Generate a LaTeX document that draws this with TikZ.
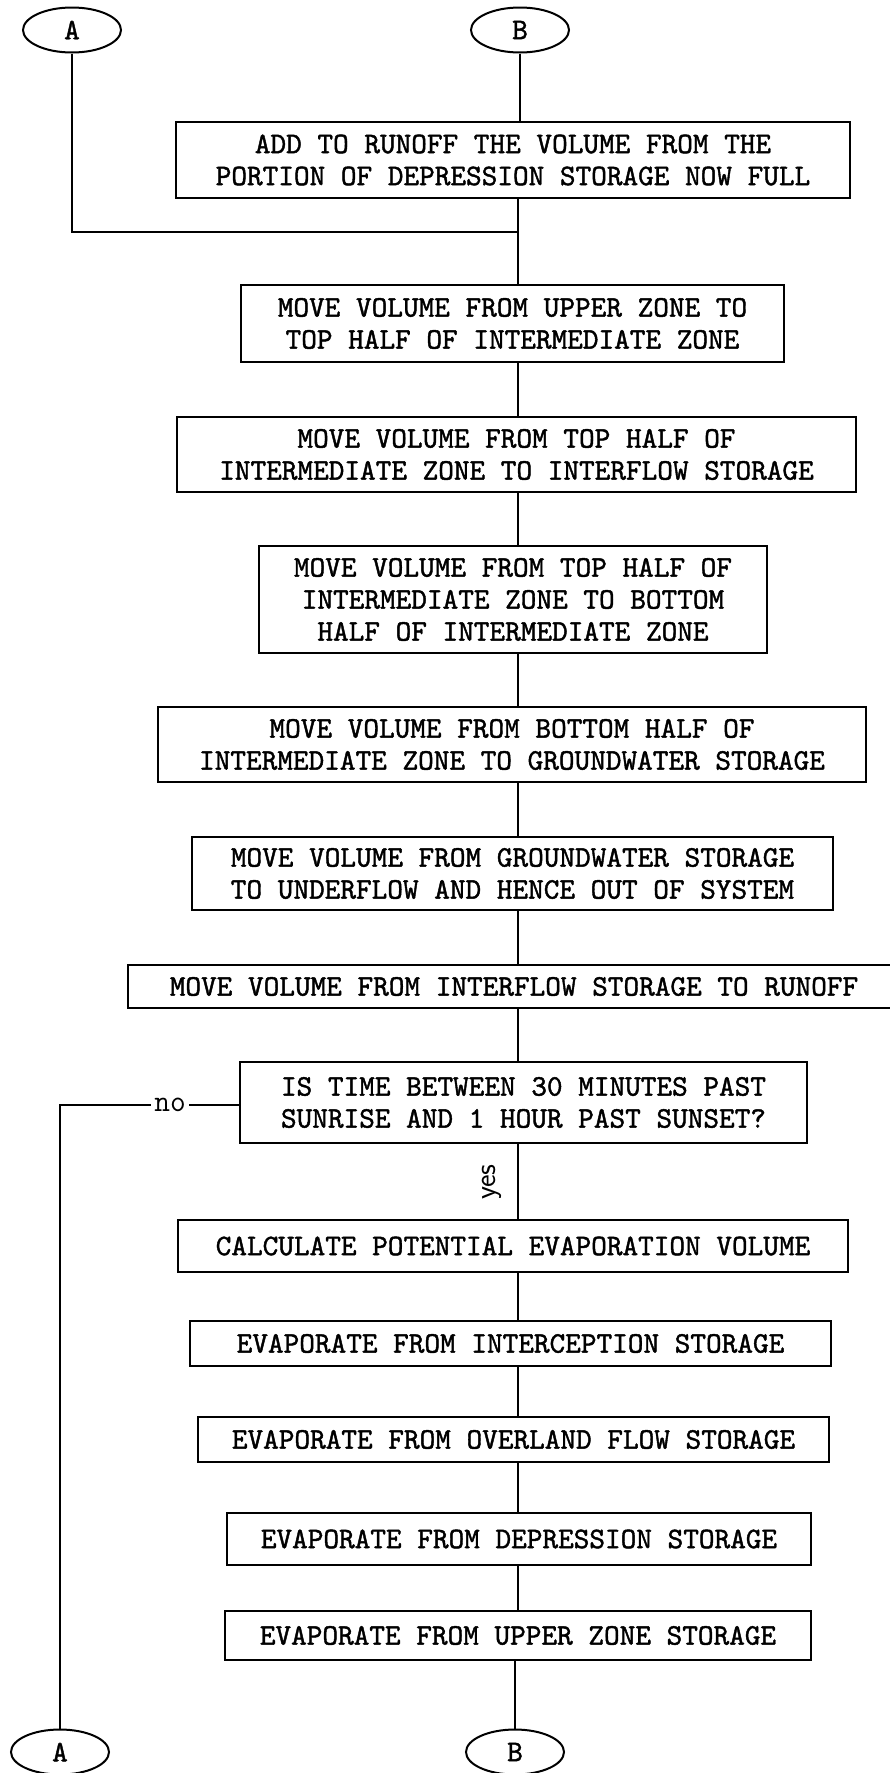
\documentclass[tikz,border=0pt]{standalone}
\usepackage{fontspec}
\usetikzlibrary{shapes.geometric}

% a slightly heavier mono face for the typed labels
\newfontfamily\typed{lmmono10-regular}[Extension = .otf, FakeBold = 1.4]

\tikzset{
  stepbox/.style = {draw, line width = 2pt, inner sep = 0pt, align = center,
    font = \typed\fontsize{29.8}{32}\selectfont},
  linkmark/.style = {draw, ellipse, line width = 2pt, inner sep = 0pt,
    minimum width = 98pt, minimum height = 45pt,
    font = \typed\fontsize{29.8}{32}\selectfont},
  flow/.style = {line width = 2pt}
}

\begin{document}
\begin{tikzpicture}[x = 1pt, y = -1pt]
% The page is fixed to the scanned sheet, one unit per pixel, y pointing down
\useasboundingbox (0,0) rectangle (890,1773);
\clip (0,0) rectangle (890,1773);

% Reference points for the main column of the chart
\coordinate (spine) at (518, 0);
\coordinate (join)  at (518, 232);     % (where the A return meets the column)

% Off-page connectors at the top
\node[linkmark] (A top) at (72, 30)  {A};
\node[linkmark] (B top) at (520, 30) {B};

% Process boxes, top to bottom
\node[stepbox, minimum width = 674pt, minimum height = 76pt] (runoff) at (513, 160)
  {ADD TO RUNOFF THE VOLUME FROM THE\\PORTION OF DEPRESSION STORAGE NOW FULL};
\node[stepbox, minimum width = 543pt, minimum height = 77pt] (upper) at (512.5, 323.5)
  {MOVE VOLUME FROM UPPER ZONE TO\\TOP HALF OF INTERMEDIATE ZONE};
\node[stepbox, minimum width = 679pt, minimum height = 75pt] (interflow) at (516.5, 454.5)
  {MOVE VOLUME FROM TOP HALF OF\\INTERMEDIATE ZONE TO INTERFLOW STORAGE};
\node[stepbox, minimum width = 508pt, minimum height = 107pt] (bottom half) at (513, 599.5)
  {MOVE VOLUME FROM TOP HALF OF\\INTERMEDIATE ZONE TO BOTTOM\\HALF OF INTERMEDIATE ZONE};
\node[stepbox, minimum width = 708pt, minimum height = 75pt] (groundwater) at (512, 744.5)
  {MOVE VOLUME FROM BOTTOM HALF OF\\INTERMEDIATE ZONE TO GROUNDWATER STORAGE};
\node[stepbox, minimum width = 641pt, minimum height = 73pt] (underflow) at (512.5, 873.5)
  {MOVE VOLUME FROM GROUNDWATER STORAGE\\TO UNDERFLOW AND HENCE OUT OF SYSTEM};
\node[stepbox, minimum width = 772pt, minimum height = 43pt] (to runoff) at (514, 986.5)
  {MOVE VOLUME FROM INTERFLOW STORAGE TO RUNOFF};

% Daylight test
\node[stepbox, minimum width = 567pt, minimum height = 81pt] (daytime) at (523.5, 1102.5)
  {IS TIME BETWEEN 30 MINUTES PAST\\SUNRISE AND 1 HOUR PAST SUNSET?};

% Evaporation steps
\node[stepbox, minimum width = 670pt, minimum height = 52pt] (potential) at (513, 1246)
  {CALCULATE POTENTIAL EVAPORATION VOLUME};
\node[stepbox, minimum width = 641pt, minimum height = 45pt] (interception) at (510.5, 1343.5)
  {EVAPORATE FROM INTERCEPTION STORAGE};
\node[stepbox, minimum width = 631pt, minimum height = 45pt] (overland) at (513.5, 1439.5)
  {EVAPORATE FROM OVERLAND FLOW STORAGE};
\node[stepbox, minimum width = 584pt, minimum height = 52pt] (depression) at (519, 1539)
  {EVAPORATE FROM DEPRESSION STORAGE};
\node[stepbox, minimum width = 586pt, minimum height = 49pt] (upper zone) at (518, 1635.5)
  {EVAPORATE FROM UPPER ZONE STORAGE};

% Off-page connectors at the bottom
\node[linkmark] (A bottom) at (60, 1752)  {A};
\node[linkmark] (B bottom) at (515, 1752) {B};

% Branch labels
\node[font = \ttfamily\fontsize{30.5}{32}\selectfont] (no) at (170, 1105) {no};
\node[font = \sffamily\fontsize{30}{32}\selectfont, rotate = 90] (yes) at (492, 1182) {yes};

% Main column
\draw[flow] (B top.south) -- (B top.south |- runoff.north);
\draw[flow] (runoff.south -| spine) -- (upper.north -| spine);
\draw[flow] (A top.south) -- (A top.south |- join) -- (join);
\draw[flow] (upper.south -| spine) -- (interflow.north -| spine);
\draw[flow] (interflow.south -| spine) -- (bottom half.north -| spine);
\draw[flow] (bottom half.south -| spine) -- (groundwater.north -| spine);
\draw[flow] (groundwater.south -| spine) -- (underflow.north -| spine);
\draw[flow] (underflow.south -| spine) -- (to runoff.north -| spine);
\draw[flow] (to runoff.south -| spine) -- (daytime.north -| spine);
\draw[flow] (daytime.south -| spine) -- (potential.north -| spine);
\draw[flow] (potential.south -| spine) -- (interception.north -| spine);
\draw[flow] (interception.south -| spine) -- (overland.north -| spine);
\draw[flow] (overland.south -| spine) -- (depression.north -| spine);
\draw[flow] (depression.south -| spine) -- (upper zone.north -| spine);
\draw[flow] (upper zone.south -| B bottom) -- (B bottom.north);

% The night branch goes back round to A
\draw[flow] (daytime.west |- no) -- (no.east);
\draw[flow] (no.west) -- (no.west -| A bottom) -- (A bottom.north);

\end{tikzpicture}
\end{document}
